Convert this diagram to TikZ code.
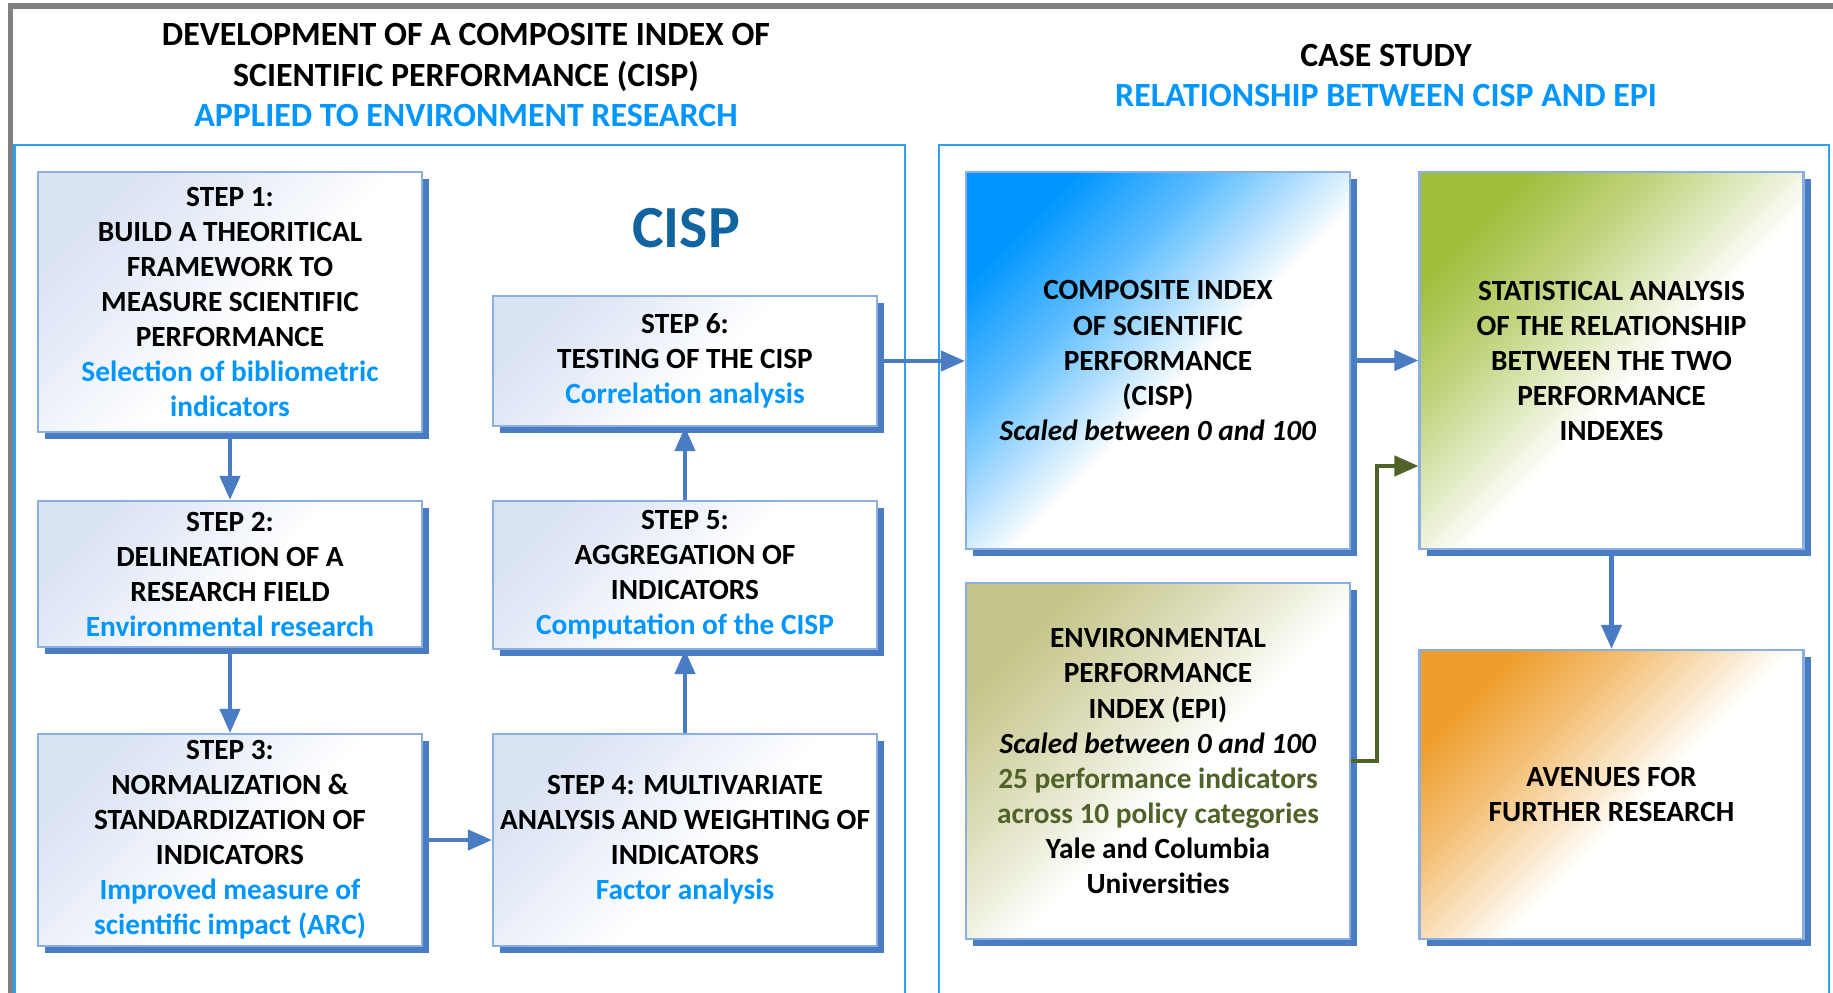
\documentclass[tikz,border=0pt]{standalone}
\usepackage{fontspec}
\setmainfont{Carlito}
\usepackage{xcolor}
\usepackage{tikz}
\usetikzlibrary{arrows.meta, positioning, shadows}
\definecolor{cispsky}{RGB}{0,150,255}
\definecolor{cispdark}{RGB}{16,100,160}
\definecolor{shadowblue}{RGB}{74,124,195}
\definecolor{boxline}{RGB}{140,175,225}
\definecolor{panelblue}{RGB}{45,160,240}
\definecolor{framegray}{RGB}{128,128,128}
\definecolor{stepshade}{RGB}{218,227,244}
\definecolor{epigreen}{RGB}{79,98,40}
\definecolor{statgreen}{RGB}{160,190,60}
\definecolor{epikhaki}{RGB}{196,196,136}
\definecolor{avenorange}{RGB}{238,158,45}

% colour in the top left corner, fading out to white before the middle
\colorlet{cornerhue}{white}
\pgfdeclareverticalshading[cornerhue]{cornerfade}{100bp}{color(0bp)=(white);
  color(46bp)=(white); color(53bp)=(cornerhue!28); color(63bp)=(cornerhue!65);
  color(75bp)=(cornerhue); color(100bp)=(cornerhue)}

\begin{document}
\begin{tikzpicture}[
  stepbox/.style={draw=boxline, line width=0.6pt, inner sep=0pt,
    minimum width=3.84cm, align=center,
    font=\bfseries\fontsize{8.34}{9.96}\selectfont,
    shade corner=stepshade,
    drop shadow={shadow xshift=0.07cm, shadow yshift=-0.07cm,
      fill=shadowblue, opacity=1}},
  shade corner/.style={/utils/exec={\colorlet{cornerhue}{#1}},
    shade, shading=cornerfade, shading angle=45},
  flow/.style={draw=shadowblue, line width=1.2pt,
    -{Triangle[length=2.4mm, width=2mm]}},
  epiflow/.style={flow, draw=epigreen},
  heading/.style={align=center, font=\bfseries\fontsize{9.65}{11.4}\selectfont}
]
\useasboundingbox (0,0) rectangle (18.33,9.92);
\clip (0,0) rectangle (18.33,9.92);

% Frame and panels
\draw[framegray, line width=1.5pt] (0.106,-1) |- (19,9.86);
\draw[panelblue, line width=0.8pt] (0.147,-1) |- (9.05,8.47) -- (9.05,-1);
\draw[panelblue, line width=0.8pt] (9.39,-1) |- (18.29,8.47) -- (18.29,-1);

% Headings
\node[heading] (lefttitle) at (4.66,9.17)
  {DEVELOPMENT OF A COMPOSITE INDEX OF\\SCIENTIFIC PERFORMANCE (CISP)\\
   \textcolor{cispsky}{APPLIED TO ENVIRONMENT RESEARCH}};
\node[heading] (righttitle) at (13.86,9.165)
  {CASE STUDY\\\textcolor{cispsky}{RELATIONSHIP BETWEEN CISP AND EPI}};
\node[font=\bfseries\fontsize{17}{20}\selectfont, text=cispdark] (cisplabel) at (6.86,7.64) {CISP};

% Steps
\node[stepbox, minimum height=2.60cm] (s1) at (2.30,6.90)
  {STEP 1:\\BUILD A THEORITICAL\\FRAMEWORK TO\\MEASURE SCIENTIFIC\\PERFORMANCE\\
   \textcolor{cispsky}{Selection of bibliometric}\\\textcolor{cispsky}{indicators}};
\node[stepbox, minimum height=1.46cm] (s2) at (2.30,4.18)
  {STEP 2:\\DELINEATION OF A\\RESEARCH FIELD\\\textcolor{cispsky}{Environmental research}};
\node[stepbox, minimum height=2.12cm] (s3) at (2.30,1.52)
  {STEP 3:\\NORMALIZATION \&\\STANDARDIZATION OF\\INDICATORS\\
   \textcolor{cispsky}{Improved measure of}\\\textcolor{cispsky}{scientific impact (ARC)}};
\node[stepbox, minimum height=2.12cm] (s4) at (6.85,1.52)
  {STEP 4: MULTIVARIATE\\ANALYSIS AND WEIGHTING OF\\INDICATORS\\\textcolor{cispsky}{Factor analysis}};
\node[stepbox, minimum height=1.48cm] (s5) at (6.85,4.17)
  {STEP 5:\\AGGREGATION OF\\INDICATORS\\\textcolor{cispsky}{Computation of the CISP}};
\node[stepbox, minimum height=1.30cm] (s6) at (6.85,6.31)
  {STEP 6:\\TESTING OF THE CISP\\\textcolor{cispsky}{Correlation analysis}};

% Case study
\node[stepbox, minimum height=3.77cm, shade corner=cispsky] (cisp) at (11.58,6.315)
  {COMPOSITE INDEX\\OF SCIENTIFIC\\PERFORMANCE\\(CISP)\\\textit{Scaled between 0 and 100}};
\node[stepbox, minimum height=3.77cm, shade corner=statgreen] (stat) at (16.115,6.315)
  {STATISTICAL ANALYSIS\\OF THE RELATIONSHIP\\BETWEEN THE TWO\\PERFORMANCE\\INDEXES};
\node[stepbox, minimum height=3.56cm, shade corner=epikhaki] (epi) at (11.58,2.31)
  {ENVIRONMENTAL\\PERFORMANCE\\INDEX (EPI)\\\textit{Scaled between 0 and 100}\\
   \textcolor{epigreen}{25 performance indicators}\\\textcolor{epigreen}{across 10 policy categories}\\
   Yale and Columbia\\Universities};
\node[stepbox, minimum height=2.89cm, shade corner=avenorange] (aven) at (16.115,1.975)
  {AVENUES FOR\\FURTHER RESEARCH};

% Arrows
\draw[flow] (s1) -- (s2);
\draw[flow] (s2) -- (s3);
\draw[flow] (s3) -- (s4);
\draw[flow] (s4) -- (s5);
\draw[flow] (s5) -- (s6);
\draw[flow] (s6.east) -- (s6.east -| cisp.west);
\draw[flow] (cisp) -- (stat);
\draw[flow] (stat) -- (aven);
\draw[epiflow] (epi.east) -- ++(0.26,0) |- ([yshift=-1.055cm]stat.west);
\end{tikzpicture}
\end{document}
